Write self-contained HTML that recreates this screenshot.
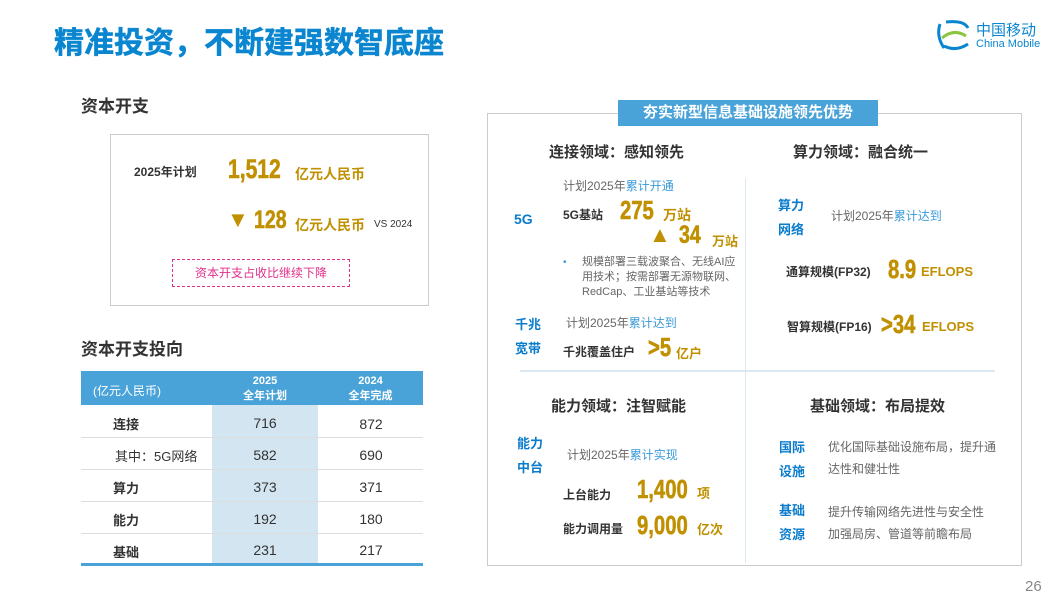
<!DOCTYPE html>
<html><head><meta charset="utf-8"><style>
*{margin:0;padding:0;box-sizing:border-box}
body{width:1057px;height:601px;background:#fff;position:relative;overflow:hidden;font-family:"Liberation Sans","Noto Sans CJK SC",sans-serif;color:#333}
.a{position:absolute;white-space:nowrap}
.b{font-weight:bold}
.gold{color:#c09000;font-weight:bold}
.big{font-family:"Liberation Sans",sans-serif;font-weight:900;color:#c09000;transform:scaleX(.78);transform-origin:left;-webkit-text-stroke:0.6px #c09000}
.blue{color:#0a7ccc;font-weight:bold}
.lb{color:#3a9ad9}
.g{color:#666}
.c{width:106px;text-align:center;font-size:14px}
</style></head><body>
<div class="a b" style="left:54px;top:18px;font-size:30px;color:#0a86d0;-webkit-text-stroke:0.5px #0a86d0">精准投资，不断建强数智底座</div>
<svg class="a" style="left:934px;top:18px" width="40" height="36" viewBox="0 0 40 36"><g fill="none" stroke-width="3"><path d="M6 6 Q2 18 10 30" stroke="#0a86d0"/><path d="M12 4 Q30 2 34 10" stroke="#0a86d0"/><path d="M8 20 Q20 10 32 18" stroke="#8cc63e"/><path d="M10 28 Q22 34 34 26" stroke="#0a86d0"/></g></svg>
<div class="a" style="left:976px;top:19px;font-size:15px;color:#0a86d0">中国移动</div>
<div class="a" style="left:976px;top:38px;font-size:11px;color:#0a86d0">China Mobile</div>

<div class="a b" style="left:81px;top:92px;font-size:17px">资本开支</div>
<div class="a" style="left:110px;top:134px;width:319px;height:172px;border:1px solid #ccc"></div>
<div class="a b" style="left:134px;top:163px;font-size:12px">2025年计划</div>
<div class="a big" style="left:228px;top:154px;font-size:27px">1,512</div>
<div class="a gold" style="left:295px;top:164px;font-size:14px">亿元人民币</div>
<div class="a gold" style="left:227px;top:207px;font-size:22px">▼</div>
<div class="a big" style="left:254px;top:206px;font-size:25px">128</div>
<div class="a gold" style="left:295px;top:215px;font-size:14px">亿元人民币</div>
<div class="a" style="left:374px;top:219px;font-size:10px">VS 2024</div>
<div class="a" style="left:172px;top:259px;width:178px;height:28px;border:1px dashed #e0308a;color:#e0308a;font-size:12px;text-align:center;line-height:26px">资本开支占收比继续下降</div>

<div class="a b" style="left:81px;top:335px;font-size:17px">资本开支投向</div>
<div class="a" style="left:81px;top:371px;width:342px;height:34px;background:#4aa3d8"></div>
<div class="a" style="left:212px;top:405px;width:106px;height:160px;background:#d3e5f1"></div>
<div class="a" style="left:93px;top:382px;font-size:12px;color:#fff">(亿元人民币)</div>
<div class="a b" style="left:212px;top:374px;width:106px;text-align:center;font-size:11px;color:#fff;line-height:15px">2025<br>全年计划</div>
<div class="a b" style="left:318px;top:374px;width:105px;text-align:center;font-size:11px;color:#fff;line-height:15px">2024<br>全年完成</div>
<div class="a" style="left:81px;top:437px;width:342px;border-top:1px solid #ddd"></div>
<div class="a" style="left:81px;top:469px;width:342px;border-top:1px solid #ddd"></div>
<div class="a" style="left:81px;top:501px;width:342px;border-top:1px solid #ddd"></div>
<div class="a" style="left:81px;top:533px;width:342px;border-top:1px solid #ddd"></div>
<div class="a" style="left:81px;top:563px;width:342px;height:3px;background:#4aa3d8"></div>
<div class="a b" style="left:113px;top:414px;font-size:13px">连接</div>
<div class="a" style="left:115px;top:446px;font-size:13px">其中：5G网络</div>
<div class="a b" style="left:113px;top:478px;font-size:13px">算力</div>
<div class="a b" style="left:113px;top:510px;font-size:13px">能力</div>
<div class="a b" style="left:113px;top:542px;font-size:13px">基础</div>
<div class="a c" style="left:212px;top:415px">716</div>
<div class="a c" style="left:212px;top:447px">582</div>
<div class="a c" style="left:212px;top:479px">373</div>
<div class="a c" style="left:212px;top:511px">192</div>
<div class="a c" style="left:212px;top:542px">231</div>
<div class="a c" style="left:318px;top:416px">872</div>
<div class="a c" style="left:318px;top:447px">690</div>
<div class="a c" style="left:318px;top:479px">371</div>
<div class="a c" style="left:318px;top:511px">180</div>
<div class="a c" style="left:318px;top:542px">217</div>

<div class="a" style="left:487px;top:113px;width:535px;height:453px;border:1px solid #ccc"></div>
<div class="a b" style="left:618px;top:100px;width:260px;height:26px;background:#4aa3d8;color:#fff;font-size:15px;text-align:center;line-height:26px">夯实新型信息基础设施领先优势</div>
<div class="a" style="left:745px;top:178px;width:1px;height:385px;background:#dbe8f2"></div>
<div class="a" style="left:520px;top:370px;width:475px;height:2px;background:#dbe8f2"></div>

<div class="a b" style="left:549px;top:141px;font-size:15px">连接领域：感知领先</div>
<div class="a b" style="left:793px;top:141px;font-size:15px">算力领域：融合统一</div>
<div class="a g" style="left:563px;top:177px;font-size:12px">计划2025年<span class="lb">累计开通</span></div>
<div class="a blue" style="left:514px;top:211px;font-size:14px">5G</div>
<div class="a b" style="left:563px;top:206px;font-size:12px">5G基站</div>
<div class="a big" style="left:620px;top:195px;font-size:26px">275</div>
<div class="a gold" style="left:663px;top:205px;font-size:14px">万站</div>
<div class="a gold" style="left:649px;top:222px;font-size:22px">▲</div>
<div class="a big" style="left:679px;top:221px;font-size:25px">34</div>
<div class="a gold" style="left:712px;top:231px;font-size:13px">万站</div>
<div class="a lb" style="left:563px;top:257px;font-size:10px">•</div>
<div class="a g" style="left:582px;top:255px;font-size:11px;line-height:15px">规模部署三载波聚合、无线AI应<br>用技术；按需部署无源物联网、<br>RedCap、工业基站等技术</div>
<div class="a blue" style="left:515px;top:313px;font-size:13px;line-height:24px">千兆<br>宽带</div>
<div class="a g" style="left:566px;top:314px;font-size:12px">计划2025年<span class="lb">累计达到</span></div>
<div class="a b" style="left:563px;top:343px;font-size:12px">千兆覆盖住户</div>
<div class="a big" style="left:648px;top:332px;font-size:26px">&gt;5</div>
<div class="a gold" style="left:676px;top:343px;font-size:13px">亿户</div>

<div class="a blue" style="left:778px;top:194px;font-size:13px;line-height:24px">算力<br>网络</div>
<div class="a g" style="left:831px;top:207px;font-size:12px">计划2025年<span class="lb">累计达到</span></div>
<div class="a b" style="left:786px;top:263px;font-size:12px">通算规模(FP32)</div>
<div class="a big" style="left:888px;top:254px;font-size:26px">8.9</div>
<div class="a gold" style="left:921px;top:264px;font-size:13px">EFLOPS</div>
<div class="a b" style="left:787px;top:318px;font-size:12px">智算规模(FP16)</div>
<div class="a big" style="left:881px;top:309px;font-size:26px">&gt;34</div>
<div class="a gold" style="left:922px;top:319px;font-size:13px">EFLOPS</div>

<div class="a b" style="left:551px;top:395px;font-size:15px">能力领域：注智赋能</div>
<div class="a b" style="left:810px;top:395px;font-size:15px">基础领域：布局提效</div>
<div class="a blue" style="left:517px;top:432px;font-size:13px;line-height:24px">能力<br>中台</div>
<div class="a g" style="left:567px;top:446px;font-size:12px">计划2025年<span class="lb">累计实现</span></div>
<div class="a b" style="left:563px;top:486px;font-size:12px">上台能力</div>
<div class="a big" style="left:637px;top:474px;font-size:26px">1,400</div>
<div class="a gold" style="left:697px;top:483px;font-size:13px">项</div>
<div class="a b" style="left:563px;top:520px;font-size:12px">能力调用量</div>
<div class="a big" style="left:637px;top:510px;font-size:26px">9,000</div>
<div class="a gold" style="left:697px;top:519px;font-size:13px">亿次</div>
<div class="a blue" style="left:779px;top:436px;font-size:13px;line-height:24px">国际<br>设施</div>
<div class="a g" style="left:828px;top:436px;font-size:12px;line-height:22px">优化国际基础设施布局，提升通<br>达性和健壮性</div>
<div class="a blue" style="left:779px;top:499px;font-size:13px;line-height:24px">基础<br>资源</div>
<div class="a g" style="left:828px;top:501px;font-size:12px;line-height:22px">提升传输网络先进性与安全性<br>加强局房、管道等前瞻布局</div>
<div class="a" style="left:1025px;top:578px;font-size:15px;color:#888">26</div>
</body></html>
